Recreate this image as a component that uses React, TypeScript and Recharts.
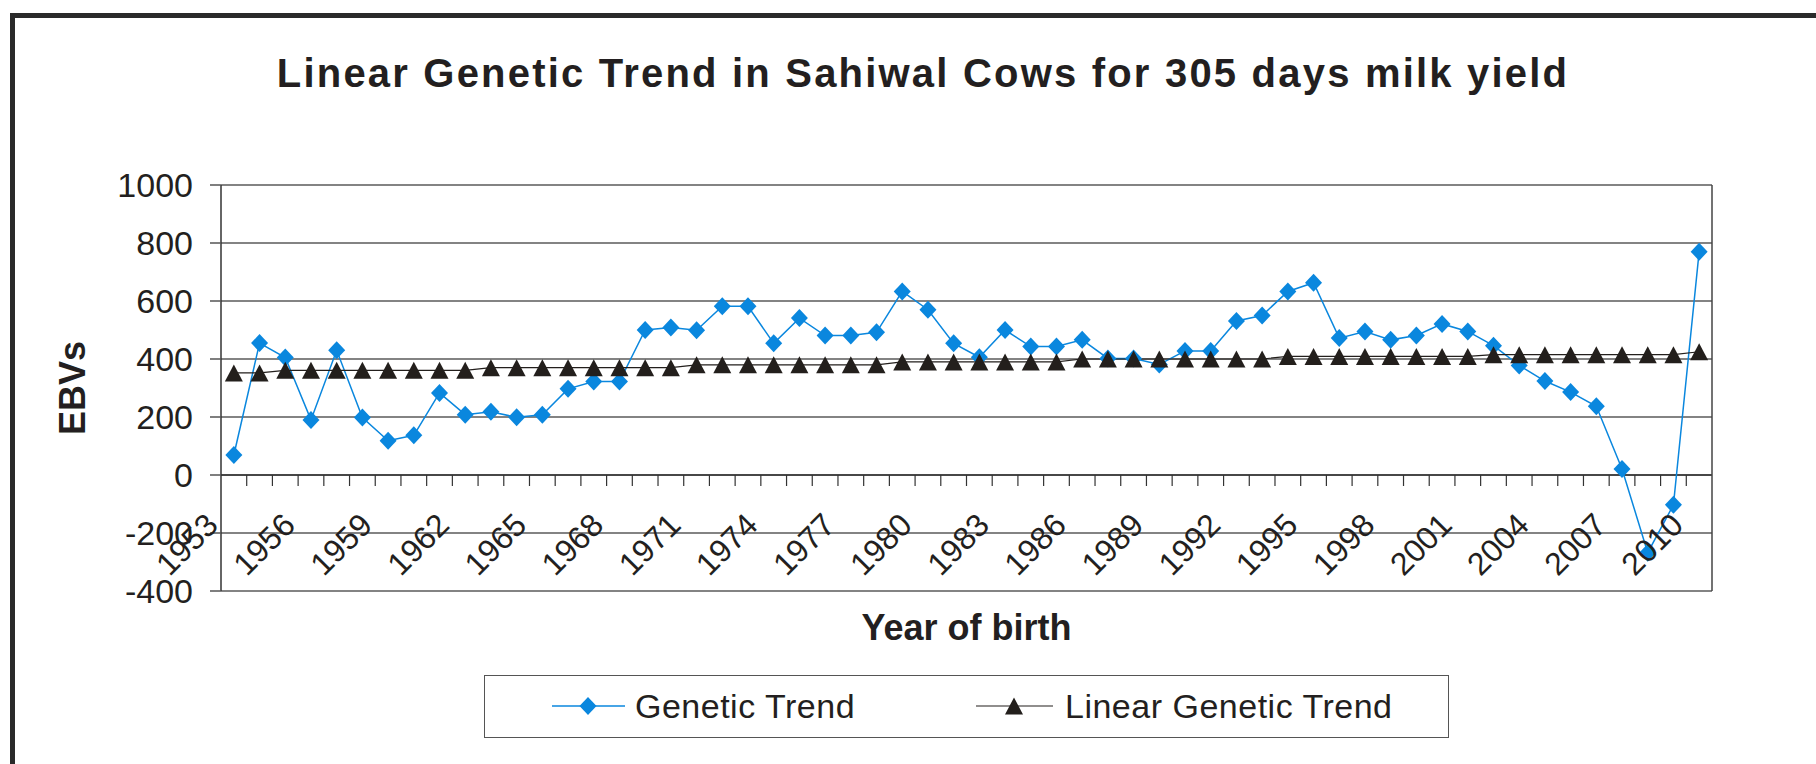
import { CartesianGrid, Label, Legend, Line, LineChart, ReferenceLine, XAxis, YAxis } from "recharts"

const years = [
  1953, 1954, 1955, 1956, 1957, 1958, 1959, 1960, 1961, 1962,
  1963, 1964, 1965, 1966, 1967, 1968, 1969, 1970, 1971, 1972,
  1973, 1974, 1975, 1976, 1977, 1978, 1979, 1980, 1981, 1982,
  1983, 1984, 1985, 1986, 1987, 1988, 1989, 1990, 1991, 1992,
  1993, 1994, 1995, 1996, 1997, 1998, 1999, 2000, 2001, 2002,
  2003, 2004, 2005, 2006, 2007, 2008, 2009, 2010,
]

const geneticTrend = [
  69, 455, 405, 190, 430, 198, 118, 137, 283, 208,
  218, 199, 208, 297, 322, 322, 500, 509, 499, 582,
  582, 454, 541, 481, 481, 492, 633, 570, 454, 406,
  500, 443, 443, 466, 402, 402, 381, 428, 428, 531,
  550, 633, 663, 472, 495, 466, 481, 521, 495, 446,
  378, 324, 286, 237, 21, -268, -103, 770,
]

const linearTrend = [
  352, 352, 361, 361, 361, 361, 361, 361, 361, 361,
  370, 370, 370, 370, 370, 370, 370, 370, 380, 380,
  380, 380, 380, 380, 380, 380, 390, 390, 390, 390,
  390, 390, 390, 400, 400, 400, 400, 400, 400, 400,
  400, 409, 409, 409, 409, 409, 409, 409, 409, 415,
  415, 415, 415, 415, 415, 415, 415, 425,
]

const yTicks = [-400, -200, 0, 200, 400, 600, 800, 1000]

const data = years.map((year, i) => ({
  year,
  genetic: geneticTrend[i],
  linear: linearTrend[i],
}))

const FONT = '"Liberation Sans", Arial, Helvetica, sans-serif'
const INK = "#231f20"
const BLUE = "#0a87de"
const BLACK = "#231f1c"

// plot box in page pixels
const PLOT_LEFT = 221
const PLOT_RIGHT = 1712
const PLOT_TOP = 185
const PLOT_BOTTOM = 591
const BAND = (PLOT_RIGHT - PLOT_LEFT) / years.length
const ZERO_OFFSET = ((PLOT_BOTTOM - PLOT_TOP) * (0 - yTicks[0])) / (yTicks[yTicks.length - 1] - yTicks[0])

function XTick(props: any) {
  const { x, y, payload, index } = props
  const zeroY = y - ZERO_OFFSET
  const lx = x - 14
  const ly = y - 64
  return (
    <g>
      {index > 0 && (
        <line x1={x - BAND / 2} x2={x - BAND / 2} y1={zeroY} y2={zeroY + 11} stroke="#333" strokeWidth={1.2} />
      )}
      {index % 3 === 0 && (
        <text
          x={lx}
          y={ly}
          transform={`rotate(-45, ${lx}, ${ly})`}
          textAnchor="end"
          fontSize={32}
          fill={INK}
          fontFamily={FONT}
        >
          {payload.value}
        </text>
      )}
    </g>
  )
}

const diamond = (props: any) => {
  const { cx, cy, index } = props
  if (cx == null || cy == null) return <g key={`d-${index}`} />
  return (
    <polygon
      key={`d-${index}`}
      points={`${cx},${cy - 9} ${cx + 8.5},${cy} ${cx},${cy + 9} ${cx - 8.5},${cy}`}
      fill={BLUE}
    />
  )
}

const triangle = (props: any) => {
  const { cx, cy, index } = props
  if (cx == null || cy == null) return <g key={`t-${index}`} />
  return (
    <polygon
      key={`t-${index}`}
      points={`${cx},${cy - 8.5} ${cx + 9},${cy + 8.5} ${cx - 9},${cy + 8.5}`}
      fill={BLACK}
    />
  )
}

function LegendBox() {
  return (
    <div style={{ width: 965, height: 63, boxSizing: "border-box", border: "1.5px solid #555", background: "#fff" }}>
      <svg width={962} height={60} style={{ display: "block" }}>
        <line x1={67} x2={140} y1={30} y2={30} stroke={BLUE} strokeWidth={1.5} />
        <polygon points="103,21 111.5,30 103,39 94.5,30" fill={BLUE} />
        <text x={150} y={30} dominantBaseline="central" fontSize={34} fill={INK} fontFamily={FONT} letterSpacing={0.5}>
          Genetic Trend
        </text>
        <line x1={491} x2={568} y1={30} y2={30} stroke={BLACK} strokeWidth={1.2} />
        <polygon points="529,21.5 538,38.5 520,38.5" fill={BLACK} />
        <text x={580} y={30} dominantBaseline="central" fontSize={34} fill={INK} fontFamily={FONT} letterSpacing={0.5}>
          Linear Genetic Trend
        </text>
      </svg>
    </div>
  )
}

export default function App() {
  return (
    <div
      style={{
        position: "absolute",
        left: 0,
        top: 0,
        width: 1816,
        height: 764,
        overflow: "hidden",
        background: "#fff",
        fontFamily: FONT,
      }}
    >
      <div
        style={{
          position: "absolute",
          left: 10,
          top: 13,
          width: 2000,
          height: 1000,
          borderTop: "5px solid #2a2a2a",
          borderLeft: "5px solid #2a2a2a",
        }}
      />
      <div
        style={{
          position: "absolute",
          left: 923,
          top: 53,
          transform: "translateX(-50%)",
          fontSize: 40,
          lineHeight: "40px",
          fontWeight: "bold",
          letterSpacing: 2.2,
          whiteSpace: "nowrap",
          color: INK,
        }}
      >
        Linear Genetic Trend in Sahiwal Cows for 305 days milk yield
      </div>
      <LineChart
        width={1816}
        height={764}
        data={data}
        margin={{ top: PLOT_TOP, right: 1816 - PLOT_RIGHT, bottom: 764 - PLOT_BOTTOM - 60, left: PLOT_LEFT - 100 }}
      >
        <CartesianGrid vertical={false} stroke="#5a5a5a" strokeWidth={1.5} />
        <XAxis
          dataKey="year"
          type="category"
          scale="band"
          height={60}
          interval={0}
          tickSize={0}
          tickMargin={0}
          tickLine={false}
          axisLine={false}
          tick={XTick}
        >
          <Label
            content={() => (
              <text
                x={(PLOT_LEFT + PLOT_RIGHT) / 2}
                y={PLOT_BOTTOM + 49}
                textAnchor="middle"
                fontSize={36}
                fontWeight="bold"
                fill={INK}
                fontFamily={FONT}
              >
                Year of birth
              </text>
            )}
          />
        </XAxis>
        <YAxis
          width={100}
          domain={[yTicks[0], yTicks[yTicks.length - 1]]}
          ticks={yTicks}
          interval={0}
          tickSize={11}
          tickMargin={17}
          axisLine={{ stroke: "#333", strokeWidth: 1.5 }}
          tickLine={{ stroke: "#555", strokeWidth: 1.5 }}
          tick={{ fontSize: 34, fill: INK, fontFamily: FONT }}
        >
          <Label
            content={() => (
              <text
                x={72}
                y={(PLOT_TOP + PLOT_BOTTOM) / 2}
                transform={`rotate(-90, 72, ${(PLOT_TOP + PLOT_BOTTOM) / 2})`}
                textAnchor="middle"
                dominantBaseline="central"
                fontSize={36}
                fontWeight="bold"
                fill={INK}
                fontFamily={FONT}
              >
                EBVs
              </text>
            )}
          />
        </YAxis>
        <ReferenceLine y={0} stroke="#333" strokeWidth={1.5} />
        <ReferenceLine x={years[years.length - 1]} position="end" stroke="#444" strokeWidth={1.5} />
        <Line
          type="linear"
          dataKey="genetic"
          name="Genetic Trend"
          stroke={BLUE}
          strokeWidth={1.5}
          dot={diamond}
          activeDot={false}
          isAnimationActive={false}
        />
        <Line
          type="linear"
          dataKey="linear"
          name="Linear Genetic Trend"
          stroke={BLACK}
          strokeWidth={1.2}
          dot={triangle}
          activeDot={false}
          isAnimationActive={false}
        />
        <Legend
          layout="horizontal"
          verticalAlign="middle"
          align="center"
          wrapperStyle={{ left: 484, top: 675, width: 965, height: 63 }}
          content={() => <LegendBox />}
        />
      </LineChart>
    </div>
  )
}
